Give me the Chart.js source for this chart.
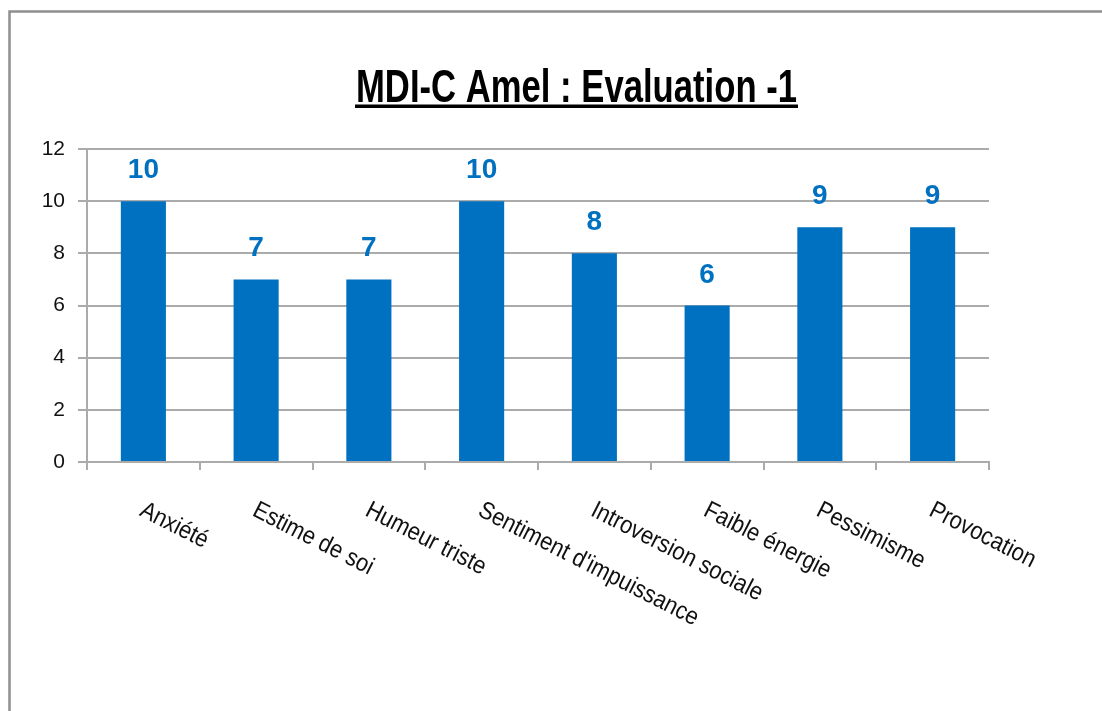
<!DOCTYPE html>
<html><head><meta charset="utf-8">
<script src="https://cdn.jsdelivr.net/npm/chart.js@4.4.1/dist/chart.umd.min.js"></script>
<style>html,body{margin:0;padding:0;background:#fff;overflow:hidden}#wrap{width:1102px;height:711px;position:relative}canvas{display:block}</style>
</head><body><div id="wrap"><canvas id="c" width="1102" height="711"></canvas></div>
<script>
const titleText = 'MDI-C Amel : Evaluation -1';
const categories = ['Anxiété', 'Estime de soi', 'Humeur triste', "Sentiment d'impuissance", 'Introversion sociale', 'Faible énergie', 'Pessimisme', 'Provocation'];
const scores = [10, 7, 7, 10, 8, 6, 9, 9];
const yTicks = [0, 2, 4, 6, 8, 10, 12];

const BLUE = '#0070C0';
const GRID = '#ababab';

const framePlugin = {
  id: 'frame',
  beforeDraw(chart) {
    const ctx = chart.ctx;
    ctx.save();
    ctx.fillStyle = '#fff';
    ctx.fillRect(0, 0, chart.width, chart.height);
    ctx.strokeStyle = '#8f8f8f';
    ctx.lineWidth = 2.5;
    ctx.strokeRect(9.5, 11.5, 1300, 900);
    ctx.restore();
  }
};

const titlePlugin = {
  id: 'uTitle',
  afterDraw(chart) {
    const ctx = chart.ctx;
    const text = chart.options.plugins.title.text;
    ctx.save();
    ctx.font = 'bold 47px "Liberation Sans Narrow", "Liberation Sans", Arial, sans-serif';
    const w = ctx.measureText(text).width;
    const targetW = 441;
    const left = 356;
    ctx.fillStyle = '#000';
    ctx.translate(left + targetW / 2, 102);
    ctx.scale(targetW / w, 1);
    ctx.textAlign = 'center';
    ctx.textBaseline = 'alphabetic';
    ctx.fillText(text, 0, 0);
    ctx.restore();
    ctx.save();
    ctx.fillStyle = '#000';
    ctx.fillRect(left - 1, 104.5, targetW + 2, 3.5);
    ctx.restore();
  }
};

const valuePlugin = {
  id: 'values',
  afterDatasetsDraw(chart) {
    const ctx = chart.ctx;
    const meta = chart.getDatasetMeta(0);
    ctx.save();
    ctx.font = 'bold 28px "Liberation Sans", Arial, sans-serif';
    ctx.fillStyle = BLUE;
    ctx.textAlign = 'center';
    ctx.textBaseline = 'alphabetic';
    meta.data.forEach((bar, i) => {
      ctx.fillText(String(chart.data.datasets[0].data[i]), bar.x, bar.y - 23);
    });
    ctx.restore();
  }
};

const catPlugin = {
  id: 'catLabels',
  afterDraw(chart) {
    const ctx = chart.ctx;
    const xs = chart.scales.x;
    const bottom = chart.chartArea.bottom;
    ctx.save();
    ctx.font = '22px "Liberation Sans", Arial, sans-serif';
    ctx.fillStyle = '#111';
    ctx.textAlign = 'left';
    ctx.textBaseline = 'alphabetic';
    chart.data.labels.forEach((lab, i) => {
      const x = xs.getPixelForTick(i);
      ctx.save();
      ctx.translate(x - 5, bottom + 53);
      ctx.rotate(27 * Math.PI / 180);
      ctx.scale(1, 1.12);
      ctx.fillText(lab, 0, 0);
      ctx.restore();
    });
    ctx.restore();
  }
};

new Chart(document.getElementById('c'), {
  type: 'bar',
  data: {
    labels: categories,
    datasets: [{
      label: 'Score',
      data: scores,
      backgroundColor: BLUE,
      borderWidth: 0,
      categoryPercentage: 1.0,
      barPercentage: 0.4
    }]
  },
  options: {
    responsive: false,
    animation: false,
    devicePixelRatio: 1,
    layout: { padding: { top: 149, bottom: 241, left: 0, right: 113 } },
    plugins: {
      legend: { display: false },
      tooltip: { enabled: false },
      title: { display: false, text: titleText }
    },
    scales: {
      x: {
        offset: true,
        grid: { display: true, drawOnChartArea: false, drawTicks: true, tickLength: 8, color: GRID, lineWidth: 2, offset: true },
        border: { display: true, color: GRID, width: 2 },
        ticks: { display: false }
      },
      y: {
        min: 0, max: 12,
        afterBuildTicks(s) { s.ticks = yTicks.map(v => ({ value: v })); },
        afterFit(s) { s.width = 87; },
        grid: { color: GRID, lineWidth: 2, drawTicks: true, tickLength: 9 },
        border: { display: true, color: GRID, width: 2 },
        ticks: { padding: 13, color: '#111', font: { family: '"Liberation Sans", Arial, sans-serif', size: 21 } }
      }
    }
  },
  plugins: [framePlugin, valuePlugin, catPlugin, titlePlugin]
});
</script>
</body></html>
